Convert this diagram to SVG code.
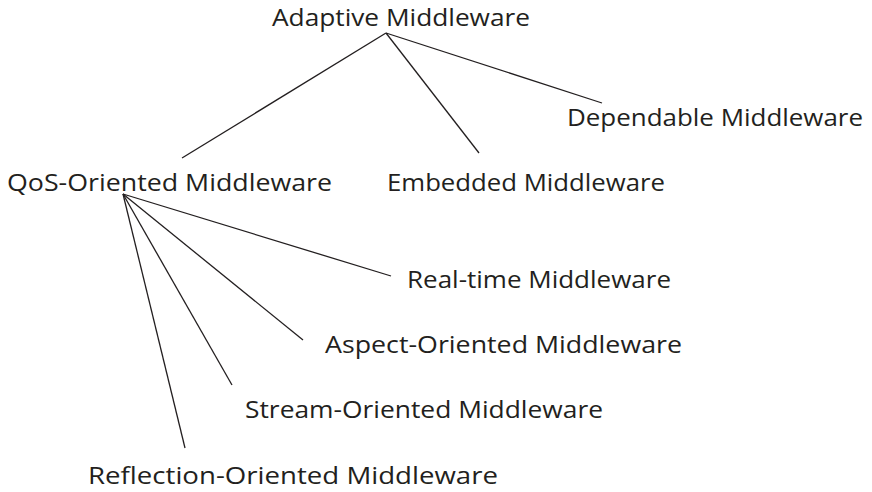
<svg xmlns="http://www.w3.org/2000/svg" width="872" height="492" viewBox="0 0 872 492">
<style>
  text { font-family: "Open Sans", "Noto Sans", sans-serif; font-size: 24px; fill: #231f20; }
  .edge { stroke: #231f20; stroke-width: 1.3; fill: none; }
</style>
<rect width="872" height="492" fill="#ffffff"/>
<g id="connectors">
  <line class="edge" x1="386" y1="33" x2="182" y2="158"/>
  <line class="edge" x1="386" y1="33" x2="479" y2="153"/>
  <line class="edge" x1="386" y1="33" x2="602" y2="103"/>
  <line class="edge" x1="123" y1="194" x2="391" y2="276"/>
  <line class="edge" x1="123" y1="194" x2="303" y2="340"/>
  <line class="edge" x1="123" y1="194" x2="232" y2="385"/>
  <line class="edge" x1="123" y1="194" x2="185" y2="448"/>
</g>
<g id="adaptive"><text x="272" y="26" textLength="258" lengthAdjust="spacingAndGlyphs">Adaptive Middleware</text></g>
<g id="dependable"><text x="567" y="126" textLength="296" lengthAdjust="spacingAndGlyphs">Dependable Middleware</text></g>
<g id="qos"><text x="7" y="191" textLength="325" lengthAdjust="spacingAndGlyphs">QoS-Oriented Middleware</text></g>
<g id="embedded"><text x="387" y="191" textLength="278" lengthAdjust="spacingAndGlyphs">Embedded Middleware</text></g>
<g id="realtime"><text x="407" y="288" textLength="264" lengthAdjust="spacingAndGlyphs">Real-time Middleware</text></g>
<g id="aspect"><text x="325" y="353" textLength="357" lengthAdjust="spacingAndGlyphs">Aspect-Oriented Middleware</text></g>
<g id="stream"><text x="245" y="418" textLength="358" lengthAdjust="spacingAndGlyphs">Stream-Oriented Middleware</text></g>
<g id="reflection"><text x="88" y="484" textLength="410" lengthAdjust="spacingAndGlyphs">Reflection-Oriented Middleware</text></g>
</svg>
